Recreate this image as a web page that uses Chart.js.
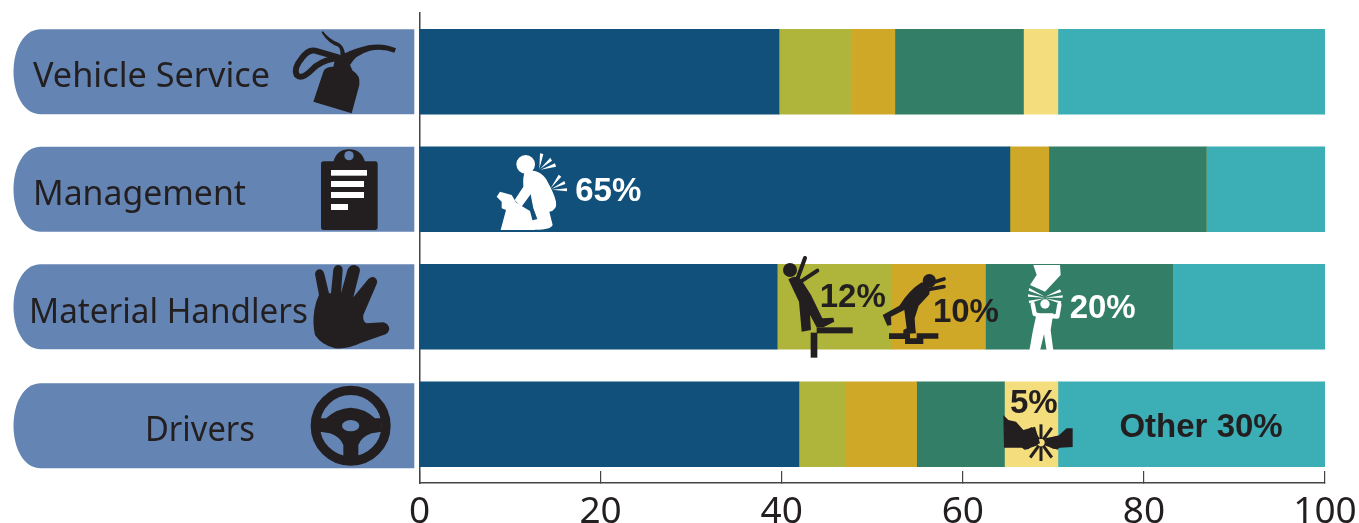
<!DOCTYPE html>
<html>
<head>
<meta charset="utf-8">
<title>Injuries by job</title>
<script src="https://cdn.jsdelivr.net/npm/chart.js@4"></script>
<style>
  html, body { margin: 0; padding: 0; background: #fff; overflow: hidden; }
  canvas { display: block; }
</style>
</head>
<body>
<canvas id="chart" width="1359" height="523"></canvas>
<script>
const categories = ["Vehicle Service", "Management", "Material Handlers", "Drivers"];

// series values (percent of each row)
const overexertion = [39.7, 65.2, 39.5, 41.9];
const fallsFromHeight = [7.9, 0, 12.6, 5.1];
const fallsSameLevel = [4.9, 4.3, 10.4, 7.9];
const struckBy = [14.2, 17.4, 20.7, 9.7];
const crashes = [3.8, 0, 0, 5.9];
const other = [29.5, 13.1, 16.8, 29.5];

const tickValues = [0, 20, 40, 60, 80, 100];

// callouts: text, row, x on the percent axis, baseline offset from the bar centre, colour
const calloutTexts = ["65%", "12%", "10%", "20%", "5%", "Other 30%"];
const calloutRows = [1, 2, 2, 2, 3, 3];
const calloutX = [17.2, 44.2, 56.7, 71.8, 65.2, 77.3];
const calloutDy = [12, 0, 15, 11, -11, 13];
const calloutColors = ["#fff", "#231f20", "#231f20", "#fff", "#231f20", "#231f20"];

const DARK = "#231f20";
const PILL = "#6484b3";

// left hand labels
const labelX = [33, 33, 29, 145];
const labelW = [237, 213, 279, 110];
const labelDy = [15.5, 16, 16, 16.5];
const pillDy = [0, 0, 0, 1.5];

function fillP(ctx, d, color) {
  ctx.fillStyle = color;
  ctx.fill(new Path2D(d));
}

function strokeP(ctx, d, color, w) {
  ctx.strokeStyle = color;
  ctx.lineWidth = w;
  ctx.lineCap = "round";
  ctx.lineJoin = "round";
  ctx.stroke(new Path2D(d));
}

function dot(ctx, x, y, r, color) {
  ctx.fillStyle = color;
  ctx.beginPath();
  ctx.arc(x, y, r, 0, Math.PI * 2);
  ctx.fill();
}

function rays(ctx, list, color) {
  // thin wedges, wide at the far end
  ctx.fillStyle = color;
  list.forEach(r => {
    ctx.beginPath();
    ctx.moveTo(r[0], r[1]);
    ctx.lineTo(r[2], r[3]);
    ctx.lineTo(r[4], r[5]);
    ctx.closePath();
    ctx.fill();
  });
}

// icons are drawn in 3x crop coordinates, then scaled down
const icons = [
  { x: 0, y: 0, draw(ctx) { // oil can
    fillP(ctx, "M940 305 L1055 340 L1078 255 Q1082 225 1058 212 L1050 195 Q1065 165 1110 152 Q1150 145 1183 158 L1188 145 Q1150 128 1105 136 Q1065 145 1035 160 Q1030 135 1015 128 Q990 120 968 93 L965 98 Q985 130 1015 140 Q1025 150 1020 175 L1005 178 L1000 200 Q975 200 970 215 Z", DARK);
    strokeP(ctx, "M1015 172 L945 152 Q925 147 905 175 Q880 205 890 225 Q905 240 935 210 Q955 185 1005 175", DARK, 18);
  } },
  { x: 0, y: 0, draw(ctx) { // clipboard
    ctx.fillStyle = DARK;
    ctx.beginPath();
    ctx.roundRect(963, 484, 170, 206, 8);
    ctx.fill();
    fillP(ctx, "M1000 486 Q1010 448 1047 448 Q1085 448 1095 486 Z", DARK);
    dot(ctx, 1047, 467, 14, PILL);
    ctx.fillStyle = "#fff";
    ctx.fillRect(993, 510, 108, 17);
    ctx.fillRect(993, 543, 99, 18);
    ctx.fillRect(993, 576, 99, 18);
    ctx.fillRect(993, 612, 51, 18);
  } },
  { x: 305, y: 260, draw(ctx) { // hand
    fillP(ctx, "M30 42 Q32 28 45 28 Q55 30 58 42 L72 100 L78 100 L85 28 Q90 15 100 15 Q113 16 113 30 L108 100 L128 28 Q135 15 148 15 Q165 18 165 32 L145 112 L190 57 Q200 48 208 52 Q220 60 215 72 L175 165 Q172 185 185 190 L235 187 Q252 192 253 207 Q250 222 235 225 L165 250 Q130 268 90 265 Q50 255 30 225 Q22 190 28 150 Q32 125 42 105 Z", DARK);
  } },
  { x: 0, y: 250, draw(ctx) { // steering wheel
    ctx.strokeStyle = DARK;
    ctx.lineWidth = 28;
    ctx.beginPath();
    ctx.arc(1052, 527, 106, 0, Math.PI * 2);
    ctx.stroke();
    fillP(ctx, "M960 505 L978 505 Q1010 475 1052 473 Q1095 475 1125 505 L1145 505 L1145 545 L1115 550 Q1085 560 1075 585 L1075 640 L1030 640 L1030 585 Q1020 560 990 550 L960 545 Z", DARK);
    ctx.fillStyle = PILL;
    ctx.beginPath();
    ctx.ellipse(1052, 527, 26, 17, 0, 0, Math.PI * 2);
    ctx.fill();
  } },
  { x: 480, y: 145, draw(ctx) { // kneeling man, back pain
    dot(ctx, 137, 58, 28, "#fff");
    fillP(ctx, "M135 78 Q185 70 205 115 Q222 145 228 170 Q232 195 208 200 L218 240 Q212 256 155 254 L150 228 L172 222 L160 190 Q155 165 152 148 L124 186 L104 165 L130 125 Q128 95 135 78 Z", "#fff");
    fillP(ctx, "M62 255 L78 195 L65 190 L65 170 L50 155 L60 140 L95 150 L108 172 L125 183 L150 198 L165 255 Z", "#fff");
    rays(ctx, [
      [178, 72, 180, 25, 190, 27], [180, 72, 211, 38, 216, 47], [182, 74, 225, 55, 228, 65],
      [212, 130, 236, 89, 244, 95], [214, 132, 253, 108, 256, 117], [216, 134, 261, 130, 261, 139]
    ], "#fff");
  } },
  { x: 775, y: 250, draw(ctx) { // falling off a ledge
    dot(ctx, 45, 60, 21, DARK);
    strokeP(ctx, "M66 90 L90 24", DARK, 12);
    strokeP(ctx, "M78 94 L127 62", DARK, 12);
    fillP(ctx, "M40 88 Q60 72 78 88 L108 135 L142 205 L175 203 L178 215 L145 232 L125 232 L105 195 L108 240 L80 245 L72 155 Z", DARK);
    ctx.fillStyle = DARK;
    ctx.fillRect(125, 232, 108, 18);
    ctx.fillRect(107, 248, 20, 75);
  } },
  { x: 880, y: 265, draw(ctx) { // tripping on a step
    dot(ctx, 148, 47, 20, DARK);
    strokeP(ctx, "M135 60 L192 42", DARK, 11);
    strokeP(ctx, "M130 76 L192 65", DARK, 11);
    fillP(ctx, "M125 52 Q155 60 148 88 L116 122 L104 160 L106 190 L108 205 L70 207 L70 195 L80 190 L73 135 L33 155 L34 180 L22 182 L8 150 L58 122 Q88 75 125 52 Z", DARK);
    fillP(ctx, "M27 205 L90 205 L90 220 L110 220 L110 205 L175 205 L175 221 L130 221 L130 237 L75 237 L75 222 L27 222 Z", DARK);
  } },
  { x: 1020, y: 260, draw(ctx) { // box falling on a man
    fillP(ctx, "M40 15 L120 15 L122 45 L75 95 L30 75 L50 45 Z", "#fff");
    dot(ctx, 75, 132, 14, "#fff");
    rays(ctx, [
      [75, 110, 28, 84, 26, 92], [75, 113, 24, 103, 24, 110], [75, 115, 26, 122, 28, 130],
      [75, 110, 120, 88, 124, 96], [75, 113, 128, 106, 128, 113], [75, 115, 124, 124, 122, 131]
    ], "#fff");
    strokeP(ctx, "M38 132 L44 162 L62 168", "#fff", 13);
    strokeP(ctx, "M118 134 L112 170 L90 168", "#fff", 13);
    fillP(ctx, "M50 160 L100 160 L92 210 L100 272 L80 272 L72 222 L60 272 L28 272 L38 215 Z", "#fff");
  } },
  { x: 990, y: 375, draw(ctx) { // car crash
    fillP(ctx, "M40 120 L42 218 L95 218 Q110 230 125 215 L150 205 L135 155 L100 165 L78 140 L55 135 Z", DARK);
    fillP(ctx, "M248 160 L230 160 L205 182 L165 190 L170 208 Q190 230 210 218 L248 216 Z", DARK);
    ctx.strokeStyle = DARK;
    ctx.lineWidth = 9;
    ctx.lineCap = "butt";
    for (let a = 0; a < 10; a++) {
      const t = (a + 0.5) * Math.PI / 5;
      ctx.beginPath();
      ctx.moveTo(153 + Math.cos(t) * 11, 203 + Math.sin(t) * 11);
      ctx.lineTo(153 + Math.cos(t) * 55, 203 + Math.sin(t) * 55);
      ctx.stroke();
    }
  } }
];

// pills behind the row labels, drawn before the bars
const pillPlugin = {
  id: "pills",
  beforeDatasetsDraw(chart) {
    const ctx = chart.ctx;
    const y = chart.scales.y;
    ctx.save();
    categories.forEach((c, i) => {
      const cy = y.getPixelForValue(i) + pillDy[i];
      const top = cy - 42.5, bottom = cy + 42.5;
      ctx.fillStyle = PILL;
      ctx.beginPath();
      ctx.moveTo(414.3, top);
      ctx.lineTo(41, top);
      ctx.bezierCurveTo(23, top, 13.5, top + 21, 13.5, cy);
      ctx.bezierCurveTo(13.5, bottom - 21, 23, bottom, 41, bottom);
      ctx.lineTo(414.3, bottom);
      ctx.closePath();
      ctx.fill();

      ctx.fillStyle = DARK;
      ctx.font = '35px "Noto Sans"';
      ctx.textAlign = "left";
      ctx.textBaseline = "alphabetic";
      ctx.fillText(c, labelX[i], y.getPixelForValue(i) + labelDy[i], labelW[i]);
    });
    ctx.restore();
  }
};

const iconPlugin = {
  id: "icons",
  afterDatasetsDraw(chart) {
    const ctx = chart.ctx;
    const xs = chart.scales.x, ys = chart.scales.y;
    icons.forEach(icon => {
      ctx.save();
      ctx.translate(icon.x, icon.y);
      ctx.scale(1 / 3, 1 / 3);
      icon.draw(ctx);
      ctx.restore();
    });
    ctx.save();
    ctx.font = 'bold 33px "Liberation Sans"';
    ctx.textAlign = "left";
    ctx.textBaseline = "alphabetic";
    calloutTexts.forEach((t, i) => {
      ctx.fillStyle = calloutColors[i];
      ctx.fillText(t, xs.getPixelForValue(calloutX[i]), ys.getPixelForValue(calloutRows[i]) + calloutDy[i]);
    });
    ctx.restore();
  }
};

function ds(label, data, color) {
  return { label, data, backgroundColor: color, barThickness: 85, borderWidth: 0 };
}

new Chart(document.getElementById("chart"), {
  type: "bar",
  data: {
    labels: categories,
    datasets: [
      ds("Overexertion", overexertion, "#10507a"),
      ds("Falls from height", fallsFromHeight, "#afb53a"),
      ds("Falls on same level", fallsSameLevel, "#d0a828"),
      ds("Struck by", struckBy, "#337e66"),
      ds("Crashes", crashes, "#f3dd7d"),
      ds("Other", other, "#3baeb6")
    ]
  },
  options: {
    indexAxis: "y",
    responsive: false,
    animation: false,
    layout: { padding: { top: 13, right: 34, left: 0, bottom: 0 } },
    plugins: { legend: { display: false }, tooltip: { enabled: false }, title: { display: false } },
    scales: {
      x: {
        stacked: true,
        min: 0,
        max: 100,
        afterFit(scale) {
          scale.height = 40;
          // the last tick label may hang past the plot on the right
          scale.paddingRight = 0;
          scale.paddingLeft = 0;
        },
        afterBuildTicks(scale) { scale.ticks = tickValues.map(v => ({ value: v })); },
        border: { color: "#444", width: 1.5 },
        grid: { drawOnChartArea: false, drawTicks: true, tickLength: -12, color: "#444", lineWidth: 1.2 },
        ticks: { color: DARK, font: { family: "Noto Sans", size: 37 }, maxRotation: 0, padding: 19, autoSkip: false }
      },
      y: {
        stacked: true,
        afterFit(scale) { scale.width = 419.5; },
        border: { color: "#444", width: 1.5 },
        grid: { display: false },
        ticks: { display: false }
      }
    }
  },
  plugins: [pillPlugin, iconPlugin]
});
</script>
</body>
</html>
